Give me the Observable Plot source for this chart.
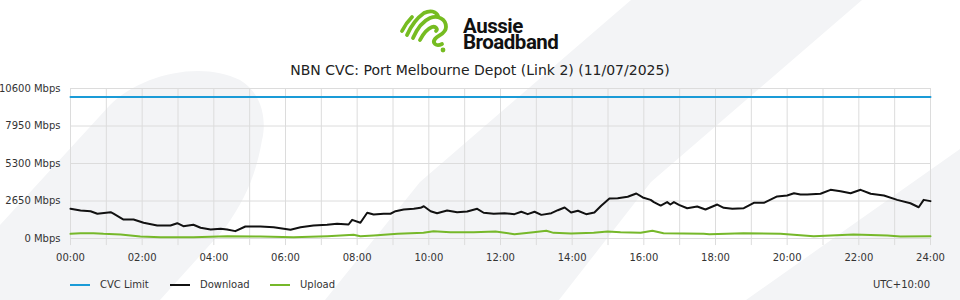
<!DOCTYPE html>
<html><head><meta charset="utf-8">
<script src="https://cdn.jsdelivr.net/npm/d3@7"></script>
<script src="https://cdn.jsdelivr.net/npm/@observablehq/plot@0.6"></script>
<style>
html,body{margin:0;padding:0;background:#fff;}
#page{position:relative;width:960px;height:300px;overflow:hidden;background:#fff;font-family:"DejaVu Sans",sans-serif;color:#222;}
#bg,#logo{position:absolute;left:0;top:0;}
#title{position:absolute;left:0;top:62px;width:960px;text-align:center;font-size:14px;line-height:17px;color:#222;}
#chart{position:absolute;left:0;top:78px;}
#legend{position:absolute;left:70px;top:277px;display:flex;font-size:10px;line-height:15px;color:#333;}
.item{width:100px;display:flex;align-items:center;}
.sw{width:20px;height:2px;margin-right:10px;}
#tz{position:absolute;right:30px;top:277px;font-size:10px;line-height:15px;color:#333;}
</style></head>
<body>
<div id="page">
<svg id="bg" width="960" height="300">
  <g fill="#f3f4f6">
    <path d="M0,225 L110,105 C140,75 200,60 240,80 C265,95 266,125 262,140 C256,175 245,200 225,228 L160,300 L0,300 Z"/>
    <path d="M631,0 L862,0 L651,182 L559,300 L325,300 L420,182 Z"/>
    <path d="M1010,113 L960,149 L746,300 L960,300 Z"/>
  </g>
</svg>
<svg id="logo" width="960" height="60">
  <g fill="none" stroke="#76bc21" stroke-width="3.8" stroke-linecap="round" stroke-linejoin="round">
    <path d="M402,31 C405,25 408,21 412,17"/>
    <path d="M407,35 C411,26 417,18 424,13 C430,10 436,11 438,16"/>
    <path d="M413,38 C417,29 423,21 430,18 C438,15 446,19 446,27 C446,34 438,35 435,39 C432,43 436,47 442,44"/>
    <path d="M420,40 C423,34 427,29 432,27 C436,26 438,29 436,31"/>
  </g>
  <circle cx="443" cy="50" r="2.4" fill="#76bc21"/>
  <text id="brand" font-family="Roboto, 'Liberation Sans', sans-serif" font-weight="700" font-size="20.5" letter-spacing="-0.5" fill="#111"></text>
</svg>
<div id="title"></div>
<div id="chart"></div>
<div id="legend"></div>
<div id="tz"></div>
</div>
<script>
// ---- text ----
const brandLines = ["Aussie", "Broadband"];
const titleText = "NBN CVC: Port Melbourne Depot (Link 2) (11/07/2025)";
const tzText = "UTC+10:00";

// ---- ticks ----
const xTickHours = [0, 2, 4, 6, 8, 10, 12, 14, 16, 18, 20, 22, 24];
const xTickLabels = ["00:00","02:00","04:00","06:00","08:00","10:00","12:00","14:00","16:00","18:00","20:00","22:00","24:00"];
const yTicks = [0, 2650, 5300, 7950, 10600];
const yTickLabels = ["0 Mbps","2650 Mbps","5300 Mbps","7950 Mbps","10600 Mbps"];
const gridHours = d3.range(0, 25);

// ---- series ----
const seriesNames = ["CVC Limit", "Download", "Upload"];
const seriesColors = ["#1a9bd7", "#111111", "#76b82a"];

const cvcHours = [0, 24];
const cvcMbps = [10000, 10000];

const dlHours = [0,0.28,0.56,0.75,1.12,1.20,1.48,1.76,2.04,2.42,2.79,2.98,3.15,3.43,3.63,3.91,4.19,4.37,4.60,4.88,5.30,5.67,6.14,6.42,6.78,7.16,7.44,7.76,7.86,8.09,8.28,8.46,8.74,8.93,9.07,9.30,9.58,9.77,9.86,10.05,10.23,10.51,10.79,11.07,11.35,11.53,11.81,12.11,12.39,12.58,12.76,12.95,13.14,13.42,13.60,13.79,13.97,14.16,14.39,14.62,14.81,15.04,15.27,15.55,15.79,15.97,16.19,16.28,16.47,16.65,16.74,16.84,16.98,17.21,17.49,17.72,18.05,18.23,18.47,18.79,19.07,19.35,19.72,20.00,20.19,20.37,20.56,20.93,21.21,21.49,21.77,22.05,22.33,22.70,23.07,23.44,23.67,23.81,24.00];
const dlMbps = [2100,1980,1930,1750,1860,1750,1340,1340,1110,920,920,1080,870,970,760,640,685,636,520,850,850,800,615,800,920,968,1040,990,1320,1110,1820,1700,1750,1750,1930,2050,2100,2170,2280,1930,1790,1980,1860,1910,2100,1820,1750,1790,1720,1890,1720,1890,1670,1790,2000,2190,1840,1960,1720,1840,2310,2830,2850,2950,3180,2900,2730,2570,2330,2570,2400,2570,2380,2140,2260,2050,2400,2170,2100,2140,2520,2520,2970,3040,3200,3110,3110,3160,3440,3340,3200,3440,3160,3040,2730,2490,2210,2730,2640];

const ulHours = [0,0.28,0.64,0.92,1.40,1.95,2.51,3.43,4.38,5.30,6.22,7.17,7.54,7.90,8.09,8.46,9.13,9.85,10.13,10.60,11.25,11.86,12.39,12.92,13.28,13.48,13.97,14.60,14.99,15.35,15.91,16.24,16.55,17.67,17.83,18.78,19.81,20.74,21.85,22.80,23.16,24.00];
const ulMbps = [330,375,375,330,280,140,90,90,163,141,90,163,212,260,163,212,330,400,516,445,445,500,304,445,544,400,353,400,495,445,400,544,375,330,304,375,330,163,283,212,141,163];

// ---- build ----
const toRows = (hs, vs) => hs.map((h, i) => ({h, v: vs[i]}));
const cvc = toRows(cvcHours, cvcMbps);
const download = toRows(dlHours, dlMbps);
const upload = toRows(ulHours, ulMbps);

const brand = document.getElementById("brand");
brandLines.forEach((line, i) => {
  const ts = document.createElementNS("http://www.w3.org/2000/svg", "tspan");
  ts.setAttribute("x", 463);
  ts.setAttribute("y", i === 0 ? 32.5 : 49);
  ts.textContent = line;
  brand.appendChild(ts);
});
document.getElementById("title").textContent = titleText;
document.getElementById("tz").textContent = tzText;

const chart = Plot.plot({
  width: 960,
  height: 190,
  marginLeft: 70,
  marginRight: 30,
  marginTop: 10,
  marginBottom: 30,
  style: {background: "transparent", fontFamily: "DejaVu Sans, sans-serif", fontSize: "10px", color: "#333", overflow: "visible"},
  x: {domain: [0, 24], ticks: xTickHours, tickFormat: d => xTickLabels[xTickHours.indexOf(d)], tickSize: 0, tickPadding: 15, label: null},
  y: {domain: [0, 10600], ticks: yTicks, tickFormat: d => yTickLabels[yTicks.indexOf(d)], tickSize: 0, tickPadding: 10, label: null},
  marks: [
    Plot.ruleY(yTicks, {stroke: "#dcdcdc", strokeWidth: 1}),
    Plot.ruleX(gridHours, {y1: -500, y2: 10600, stroke: "#dcdcdc", strokeWidth: 1}),
    Plot.line(upload, {x: "h", y: "v", stroke: seriesColors[2], strokeWidth: 2}),
    Plot.line(download, {x: "h", y: "v", stroke: seriesColors[1], strokeWidth: 2}),
    Plot.line(cvc, {x: "h", y: "v", stroke: seriesColors[0], strokeWidth: 2})
  ]
});
document.getElementById("chart").appendChild(chart);

const legend = document.getElementById("legend");
seriesNames.forEach((name, i) => {
  const item = document.createElement("div");
  item.className = "item";
  const sw = document.createElement("span");
  sw.className = "sw";
  sw.style.background = seriesColors[i];
  const t = document.createElement("span");
  t.textContent = name;
  item.appendChild(sw);
  item.appendChild(t);
  legend.appendChild(item);
});
</script>
</body></html>
